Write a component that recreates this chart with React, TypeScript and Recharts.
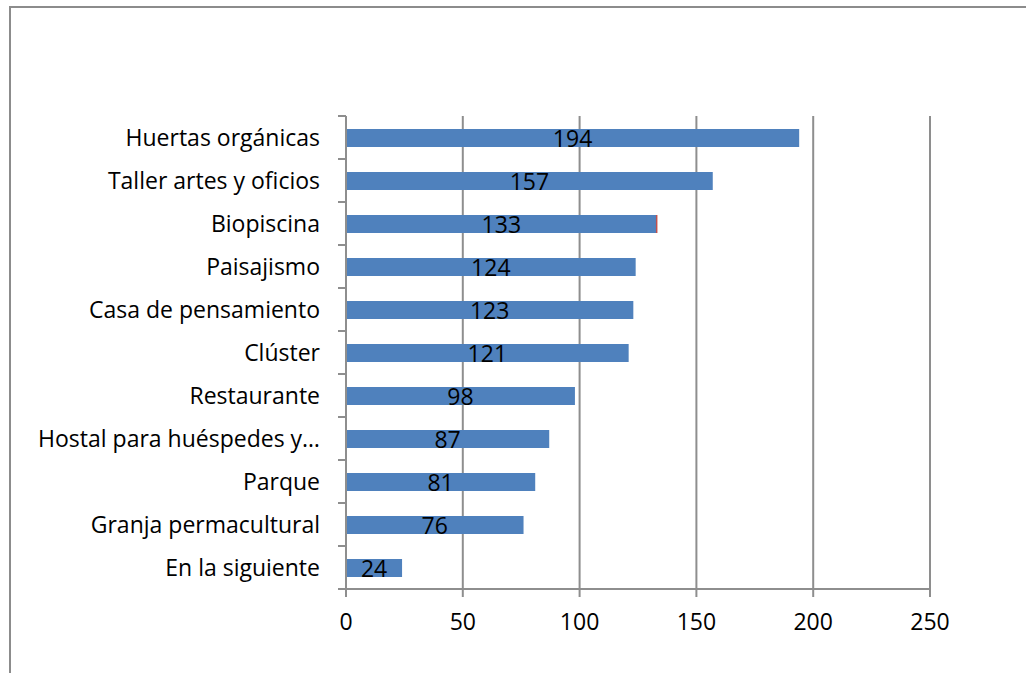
import { Bar, BarChart, CartesianGrid, LabelList, XAxis, YAxis } from "recharts";

const categories = [
  "Huertas orgánicas",
  "Taller artes y oficios",
  "Biopiscina",
  "Paisajismo",
  "Casa de pensamiento",
  "Clúster",
  "Restaurante ",
  "Hostal para huéspedes y…",
  "Parque",
  "Granja permacultural",
  "En la siguiente",
];
const votes = [194, 157, 133, 124, 123, 121, 98, 87, 81, 76, 24];
const xTicks = [0, 50, 100, 150, 200, 250];
const markedCategories = ["Biopiscina"];

const data = categories.map((name, i) => ({ name, votes: votes[i] }));

const FONT = "'Open Sans', sans-serif";
const GRID = "#8e8e8e";
const BAND = 43;

// label at band centre, tick marks on the band edges (Excel style)
function CategoryTick(props: any) {
  const { x, y, payload, index } = props;
  const axisX = x + 26;
  const last = index === categories.length - 1;
  return (
    <g>
      <line x1={axisX - 8} x2={axisX} y1={y - BAND / 2} y2={y - BAND / 2} stroke={GRID} strokeWidth={2} />
      {last && (
        <line x1={axisX - 8} x2={axisX} y1={y + BAND / 2} y2={y + BAND / 2} stroke={GRID} strokeWidth={2} />
      )}
      <text x={x} y={y} dy={8.5} textAnchor="end" fontSize={23} fontFamily={FONT} fill="#000">
        {payload.value}
      </text>
    </g>
  );
}

function VoteBar(props: any) {
  const { x, y, width, height, payload } = props;
  return (
    <g>
      <rect x={x} y={y} width={width} height={height} fill="#4f81bd" />
      {markedCategories.includes(payload.name) && (
        <line x1={x + width} x2={x + width} y1={y} y2={y + height} stroke="#c0504d" strokeWidth={1.5} />
      )}
    </g>
  );
}

export default function App() {
  return (
    <div style={{ position: "absolute", left: 0, top: 0, width: 1026, height: 673, background: "#fff" }}>
      <div
        style={{
          position: "absolute",
          left: 9,
          top: 6,
          right: 0,
          bottom: 0,
          borderTop: "2px solid #8c8c8c",
          borderLeft: "2px solid #8c8c8c",
        }}
      />
      <BarChart
        width={1026}
        height={673}
        data={data}
        layout="vertical"
        margin={{ top: 116, right: 96, bottom: 34, left: 0 }}
        barSize={18}
        style={{ position: "absolute", left: 0, top: 0 }}
      >
        <CartesianGrid horizontal={false} stroke={GRID} strokeWidth={2} />
        <XAxis
          type="number"
          domain={[0, 250]}
          ticks={xTicks}
          height={50}
          tickSize={8}
          tickMargin={17}
          stroke={GRID}
          strokeWidth={2}
          tick={{ fill: "#000", fontSize: 23, fontFamily: FONT }}
        />
        <YAxis
          type="category"
          dataKey="name"
          width={346}
          tickLine={false}
          tickSize={0}
          stroke={GRID}
          strokeWidth={2}
          tickMargin={26}
          tick={<CategoryTick />}
          interval={0}
        />
        <Bar dataKey="votes" isAnimationActive={false} shape={<VoteBar />}>
          <LabelList dataKey="votes" position="center" fill="#000" fontSize={23} fontFamily={FONT} dy={1} />
        </Bar>
      </BarChart>
    </div>
  );
}
